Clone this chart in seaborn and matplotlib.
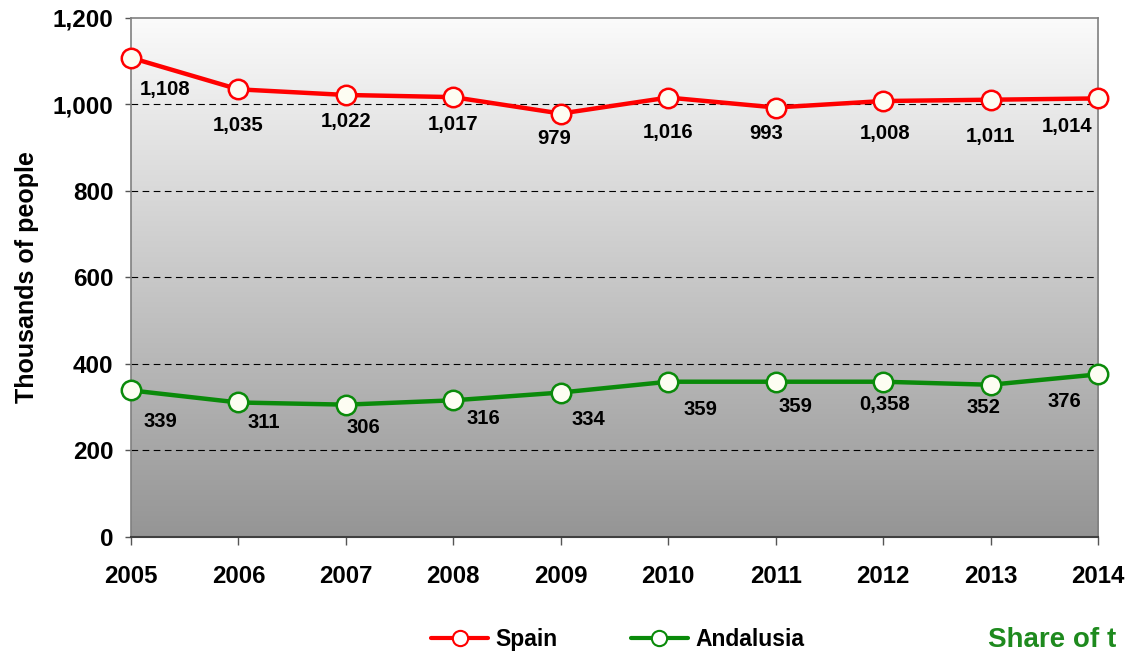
import numpy as np
import pandas as pd
import seaborn as sns
import matplotlib.pyplot as plt
from matplotlib.lines import Line2D
from matplotlib.colors import LinearSegmentedColormap

# Dados do gráfico
anos = [2005, 2006, 2007, 2008, 2009, 2010, 2011, 2012, 2013, 2014]
espanha = [1108, 1035, 1022, 1017, 979, 1016, 993, 1008, 1011, 1014]
andaluzia = [339, 311, 306, 316, 334, 359, 359, 359, 352, 376]
rotulos_espanha = ["1,108", "1,035", "1,022", "1,017", "979", "1,016", "993", "1,008", "1,011", "1,014"]
rotulos_andaluzia = ["339", "311", "306", "316", "334", "359", "359", "0,358", "352", "376"]
y_ticks = [0, 200, 400, 600, 800, 1000, 1200]
y_tick_labels = ["0", "200", "400", "600", "800", "1,000", "1,200"]

# deslocamentos dos rótulos (pixels)
desloc_espanha = [(34, -32), (0, -36), (0, -27), (0, -27), (-7, -25), (0, -35), (-10, -26), (2, -32), (0, -37), (-31, -28)]
desloc_andaluzia = [(29, -31), (25, -20), (18, -23), (30, -18), (28, -27), (32, -28), (20, -25), (1, -23), (-7, -23), (-34, -27)]

df = pd.DataFrame({"Ano": anos * 2,
                   "Valor": espanha + andaluzia,
                   "Serie": ["Spain"] * len(anos) + ["Andalusia"] * len(anos)})

sns.set_style("white")
plt.rcParams['font.family'] = ['Liberation Sans', 'DejaVu Sans']
plt.rcParams['text.color'] = 'black'
plt.rcParams['axes.labelcolor'] = 'black'
plt.rcParams['xtick.color'] = 'black'
plt.rcParams['ytick.color'] = 'black'

fig = plt.figure(figsize=(11.27, 6.56), dpi=100)
ax = fig.add_axes([0.1162, 0.1814, 0.8581, 0.7912])

# fundo em degradê
grad = np.linspace(0, 1, 256).reshape(-1, 1)
ax.imshow(grad, extent=[0, 1, 0, 1], transform=ax.transAxes, aspect='auto',
          cmap=LinearSegmentedColormap.from_list("g", ["#fbfbfb", "#959595"]), zorder=0)

for y in [200, 400, 600, 800, 1000]:
    ax.axhline(y, color='black', linestyle=(0, (6, 4)), linewidth=0.8, zorder=1)

cores = {"Spain": "#ff0000", "Andalusia": "#0a8a0a"}
sns.lineplot(data=df, x="Ano", y="Valor", hue="Serie", palette=cores, marker='o',
             markersize=14, markerfacecolor='#fdfdf2', markeredgewidth=1.8,
             linewidth=3.2, ax=ax, legend=False, zorder=3)
for linha, serie in zip(ax.get_lines()[-2:], ["Spain", "Andalusia"]):
    linha.set_markeredgecolor(cores[serie])
    linha.set_clip_on(False)

for x, y, t, (dx, dy) in zip(anos, espanha, rotulos_espanha, desloc_espanha):
    ax.annotate(t, (x, y), xytext=(dx, dy), textcoords='offset pixels', ha='center', va='center',
                fontsize=14.6, fontweight='bold', zorder=4)
for x, y, t, (dx, dy) in zip(anos, andaluzia, rotulos_andaluzia, desloc_andaluzia):
    ax.annotate(t, (x, y), xytext=(dx, dy), textcoords='offset pixels', ha='center', va='center',
                fontsize=14.6, fontweight='bold', zorder=4)

ax.set_xlim(2005, 2014)
ax.set_ylim(0, 1200)
ax.set_xticks(anos)
ax.set_xticklabels([str(a) for a in anos], fontsize=17.3, fontweight='bold')
ax.set_yticks(y_ticks)
ax.set_yticklabels(y_tick_labels, fontsize=17.5, fontweight='bold')
ax.tick_params(axis='both', which='both', direction='out', width=1, color='#555555',
               left=True, bottom=True)
ax.tick_params(axis='x', length=6, pad=14)
ax.tick_params(axis='y', length=4.5, pad=8)
ax.set_xlabel("")
ax.set_ylabel("Thousands of people", fontsize=18, fontweight='bold', labelpad=10)
for lado in ['left', 'right', 'top']:
    ax.spines[lado].set_color('#808080')
    ax.spines[lado].set_linewidth(1.2)
ax.spines['bottom'].set_color('#404040')
ax.spines['bottom'].set_linewidth(1.5)

# legenda
handles = [Line2D([], [], color=cores[s], linewidth=3, marker='o', markersize=11,
                  markerfacecolor='white', markeredgecolor=cores[s], markeredgewidth=1.5)
           for s in ["Spain", "Andalusia"]]
fig.legend(handles, ["Spain", "Andalusia"], loc='center', bbox_to_anchor=(0.548, 0.025),
           ncol=2, frameon=False, prop={'weight': 'bold', 'size': 16.5}, handlelength=2.5,
           columnspacing=3.2, handletextpad=0.3)

fig.text(0.877, 0.004, "Share of t", color='#1e8a1e', fontsize=20, fontweight='bold', ha='left', va='bottom')

fig.savefig("out.png", dpi=100)
